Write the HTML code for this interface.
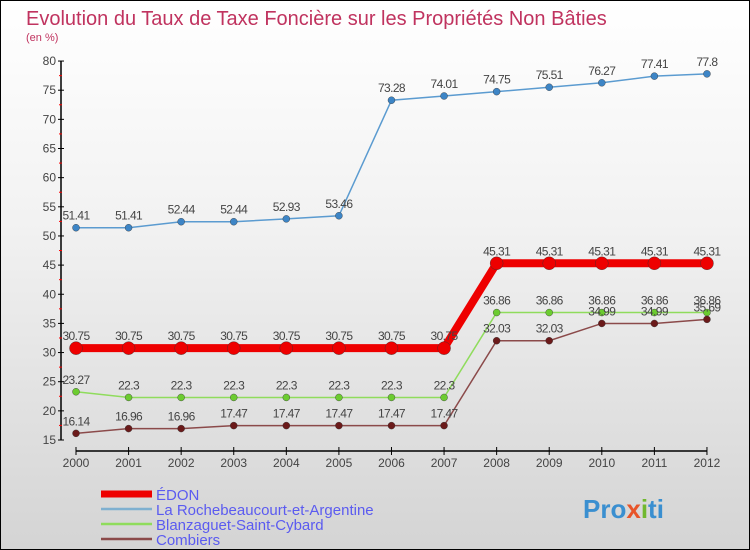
<!DOCTYPE html>
<html><head><meta charset="utf-8"><style>
body{margin:0;}
#wrap{width:748px;height:548px;border:1px solid #000;background:linear-gradient(#fff,#f2f2f2 40%,#d4d4d4);position:relative;overflow:hidden;font-family:"Liberation Sans",sans-serif;}
svg text{font-family:"Liberation Sans",sans-serif;}
</style></head><body>
<div id="wrap">
<svg id="svg" width="748" height="548">
<text x="25" y="24" font-size="20" fill="#c0335f">Evolution du Taux de Taxe Foncière sur les Propriétés Non Bâties</text>
<text x="25" y="40" font-size="11" fill="#c0335f">(en %)</text>
<g id="axes"></g><g id="series"></g><g id="legend"></g>
<text x="582" y="517" font-size="26" font-weight="bold" fill="#3a8fd0">Pro<tspan fill="#e8552a">x</tspan><tspan fill="#70b82e">i</tspan>ti</text>
</svg></div>
<script>
const years=[2000,2001,2002,2003,2004,2005,2006,2007,2008,2009,2010,2011,2012];
const edon=[30.75,30.75,30.75,30.75,30.75,30.75,30.75,30.75,45.31,45.31,45.31,45.31,45.31];
const roche=[51.41,51.41,52.44,52.44,52.93,53.46,73.28,74.01,74.75,75.51,76.27,77.41,77.8];
const blanz=[23.27,22.3,22.3,22.3,22.3,22.3,22.3,22.3,36.86,36.86,36.86,36.86,36.86];
const comb=[16.14,16.96,16.96,17.47,17.47,17.47,17.47,17.47,32.03,32.03,34.99,34.99,35.69];
const yTicks=[15,20,25,30,35,40,45,50,55,60,65,70,75,80];
const seriesNames=["ÉDON","La Rochebeaucourt-et-Argentine","Blanzaguet-Saint-Cybard","Combiers"];
const NS="http://www.w3.org/2000/svg";
const X=i=>75+i*52.58;
const Y=v=>439-(v-15)*5.83;
function mk(t,a,p){const e=document.createElementNS(NS,t);for(const k in a)e.setAttribute(k,a[k]);p.appendChild(e);return e;}
const ax=document.getElementById('axes');
let l=mk('line',{x1:60,y1:Y(80),x2:60,y2:Y(15),stroke:'#000','stroke-width':1.5},ax);


yTicks.forEach(v=>{
 mk('line',{x1:57,y1:Y(v),x2:63,y2:Y(v),stroke:'#000'},ax);
 if(v<80)mk('line',{x1:58,y1:Y(v+2.5),x2:61,y2:Y(v+2.5),stroke:'#f00'},ax);
 const t=mk('text',{x:55,y:Y(v)+4,'font-size':12,'text-anchor':'end',fill:'#444'},ax);t.textContent=v;
 
 
});
l=mk('line',{x1:X(0),y1:450,x2:X(12),y2:450,stroke:'#000','stroke-width':1.5},ax);


years.forEach((y,i)=>{
 mk('line',{x1:X(i),y1:446,x2:X(i),y2:454,stroke:'#000'},ax);
 const t=mk('text',{x:X(i),y:466,'font-size':12,'text-anchor':'middle',fill:'#444'},ax);t.textContent=y;
 
 
});
const sg=document.getElementById('series');
const defs=[[roche,'#5b9bd0','#3d85c6',1.5,3.5,'roche'],[blanz,'#8fdc5c','#6ccc30',1.5,3.5,'blanz'],[comb,'#8b4a4a','#6b1a1a',1.5,3.5,'comb'],[edon,'#ee0000','#ee0000',8,6.5,'edon']];
defs.forEach(([d,lc,pc,w,r,n])=>{
 const g=mk('g',{},sg);
 
 
 const pl=mk('polyline',{points:d.map((v,i)=>X(i)+','+Y(v)).join(' '),fill:'none',stroke:lc,'stroke-width':w},g);
 
 
 d.forEach((v,i)=>{
  const c=mk('circle',{cx:X(i),cy:Y(v),r:r,fill:pc,stroke:'#333','stroke-width':0.4},g);
  
  
  const t=mk('text',{x:X(i),y:Y(v)-8,'font-size':12,'text-anchor':'middle',fill:'#444','letter-spacing':'-0.6'},g);
  t.textContent=v;
  
  
 });
});
const lg=document.getElementById('legend');
const lcol=['#ee0000','#7fb0d0','#8fdc5c','#8b4a4a'];const lw=[7,2.5,2.5,2.5];
seriesNames.forEach((s,i)=>{
 const y=493+i*15;
 const g=mk('g',{},lg);
 
 
 mk('line',{x1:100,y1:y,x2:151,y2:y,stroke:lcol[i],'stroke-width':lw[i]},g);
 const t=mk('text',{x:155,y:y+6,'font-size':15,fill:'#5b5bf0'},g);t.textContent=s;
});
</script></body></html>
